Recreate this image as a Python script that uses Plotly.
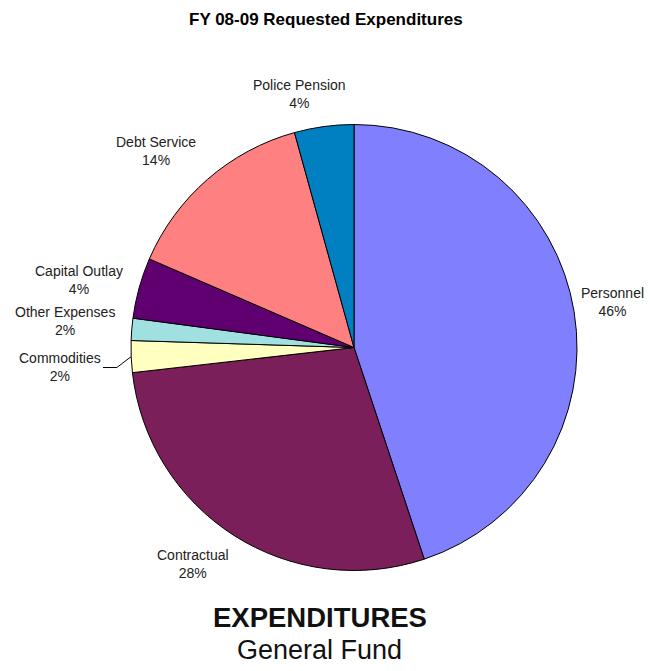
import math
import plotly.graph_objects as go

# ---- data ----
categories = ["Personnel", "Contractual", "Commodities", "Other Expenses",
              "Capital Outlay", "Debt Service", "Police Pension"]
values = [44.9, 28.3, 2.3, 1.6, 4.4, 14.2, 4.3]
pct_labels = ["46%", "28%", "2%", "2%", "4%", "14%", "4%"]
colors = ["#8080FF", "#7B1F5B", "#FFFFC0", "#A0E0E0", "#600070", "#FF8080", "#0080C0"]

# label placement styling (radial distance factor, pixel nudges)
label_dist = [1.175, 1.21, 1.32, 1.30, 1.27, 1.25, 1.165]
label_dx = [0, -16, 0, 0, -2, -15, -20]
label_dy = [-4, -11, 7, -3, 8, 14, 4]

W, H = 659, 671
CX, CY, R = 354, 347.5, 223

fig = go.Figure()
fig.add_trace(go.Pie(
    labels=categories, values=values, sort=False, direction="clockwise",
    rotation=0, textinfo="none", hoverinfo="label+percent",
    marker=dict(colors=colors, line=dict(color="black", width=1)),
    domain=dict(x=[(CX - R) / W, (CX + R) / W],
                y=[(H - CY - R) / H, (H - CY + R) / H]),
    showlegend=False,
))

total = sum(values)
cum = 0
annotations = []
shapes = []
for i, (c, v) in enumerate(zip(categories, values)):
    mid = (cum + v / 2) / total * 2 * math.pi
    cum += v
    d = label_dist[i] * R
    px = CX + d * math.sin(mid) + label_dx[i]
    py = CY - d * math.cos(mid) + label_dy[i]
    annotations.append(dict(
        x=px / W, y=1 - py / H, xref="paper", yref="paper",
        text=f"{c}<br>{pct_labels[i]}", showarrow=False,
        xanchor="center", yanchor="middle", align="center",
        font=dict(family="Liberation Sans, Arial", size=14, color="#222222"),
    ))
    if c == "Commodities":
        ex = CX + R * math.sin(mid)
        ey = CY - R * math.cos(mid)
        lx, ly = px + 43, py + 1
        path = (f"M {lx / W} {1 - ly / H} L {(lx + 14) / W} {1 - ly / H} "
                f"L {ex / W} {1 - ey / H}")
        shapes.append(dict(type="path", xref="paper", yref="paper", path=path,
                           line=dict(color="black", width=1)))

annotations += [
    dict(x=326 / W, y=1 - 19 / H, xref="paper", yref="paper",
         text="<b>FY 08-09 Requested Expenditures</b>", showarrow=False,
         xanchor="center", yanchor="middle",
         font=dict(family="Liberation Sans, Arial", size=17, color="black")),
    dict(x=320 / W, y=1 - 617 / H, xref="paper", yref="paper",
         text="<b>EXPENDITURES</b>", showarrow=False,
         xanchor="center", yanchor="middle",
         font=dict(family="Liberation Sans, Arial", size=27.5, color="#111111")),
    dict(x=319 / W, y=1 - 650 / H, xref="paper", yref="paper",
         text="General Fund", showarrow=False,
         xanchor="center", yanchor="middle",
         font=dict(family="Liberation Sans, Arial", size=27, color="#111111")),
]

fig.update_layout(
    width=W, height=H, margin=dict(l=0, r=0, t=0, b=0),
    paper_bgcolor="white", plot_bgcolor="white",
    annotations=annotations, shapes=shapes,
)
fig.write_html("out.html", config={"displayModeBar": False},
               post_script="document.body.style.margin='0px';"
                           "document.body.style.overflow='hidden';")
